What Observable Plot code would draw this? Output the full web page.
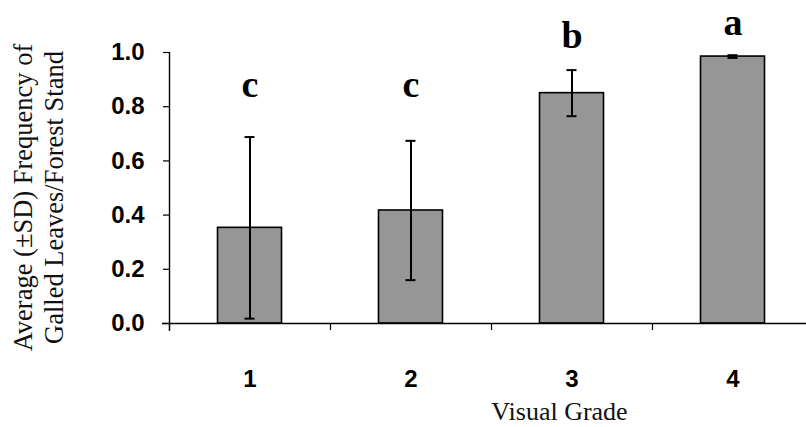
<!DOCTYPE html>
<html>
<head>
<meta charset="utf-8">
<script src="https://cdn.jsdelivr.net/npm/d3@7"></script>
<script src="https://cdn.jsdelivr.net/npm/@observablehq/plot@0.6"></script>
<style>
  html, body { margin: 0; padding: 0; background: #fff; }
</style>
</head>
<body>
<div id="chart"></div>
<script>
const grades = ["1", "2", "3", "4"];
const means = [0.353, 0.417, 0.850, 0.985];
const sds = [0.335, 0.257, 0.085, 0.005];
const letters = ["c", "c", "b", "a"];
const letterY = [0.88, 0.88, 1.062, 1.11];
const yTicks = [0, 0.2, 0.4, 0.6, 0.8, 1.0];
const yTitle = "Average (±SD) Frequency of\nGalled Leaves/Forest Stand";
const xTitle = "Visual Grade";

const data = grades.map((g, i) => ({
  grade: g, mean: means[i], lo: means[i] - sds[i], hi: means[i] + sds[i],
  letter: letters[i], ly: letterY[i]
}));

const sans = "'Liberation Sans', Arial, sans-serif";
const serif = "'Liberation Serif', 'Times New Roman', serif";

const chart = Plot.plot({
  width: 806,
  height: 427,
  marginLeft: 169,
  marginRight: 0,
  marginTop: 52,
  marginBottom: 104,
  style: {background: "#fff", color: "#000"},
  x: {type: "band", domain: grades, range: [169, 813], padding: 0},
  y: {domain: [0, 1]},
  marks: [
    Plot.barY(data, {x: "grade", y: "mean", fill: "#969696", stroke: "#000", strokeWidth: 1.6, insetLeft: 48.5, insetRight: 48.5}),
    Plot.ruleX(data, {x: "grade", y1: "lo", y2: "hi", stroke: "#000", strokeWidth: 2}),
    Plot.tickY(data, {x: "grade", y: "hi", stroke: "#000", strokeWidth: 2, insetLeft: 75.5, insetRight: 75.5}),
    Plot.tickY(data, {x: "grade", y: "lo", stroke: "#000", strokeWidth: 2, insetLeft: 75.5, insetRight: 75.5}),
    Plot.ruleY([0], {stroke: "#000", strokeWidth: 1.4, insetLeft: -7}),
    Plot.ruleX([grades[0]], {x: d => d, dx: -80.5, stroke: "#000", strokeWidth: 1.4, insetBottom: -8}),
    Plot.axisX({tickSize: 7, tickFormat: () => "", dx: -80.5, label: null, stroke: "#000", strokeWidth: 1.2}),
    Plot.axisX({tickSize: 0, tickPadding: 46, fontSize: 24, fontWeight: "bold", fontFamily: sans, label: null, fill: "#000"}),
    Plot.axisY(yTicks, {tickFormat: d3.format(".1f"), tickSize: 6, tickPadding: 19, fontSize: 24, fontWeight: "bold", fontFamily: sans, label: null, stroke: "#000", strokeWidth: 1.2, fill: "#000"}),
    Plot.text(data, {x: "grade", y: "ly", text: "letter", fontSize: 38, fontWeight: "bold", fontFamily: serif, fill: "#000", lineAnchor: "middle"}),
    Plot.text([yTitle], {frameAnchor: "left", dx: -131.5, dy: 9.5, rotate: -90, fontSize: 26.5, fontFamily: serif, lineHeight: 1.17, textAnchor: "middle", lineAnchor: "middle", fill: "#111"}),
    Plot.text([xTitle], {frameAnchor: "bottom", dx: 71.5, dy: 88, fontSize: 26, fontFamily: serif, textAnchor: "middle", lineAnchor: "middle", fill: "#111"})
  ]
});
document.getElementById("chart").appendChild(chart);
</script>
</body>
</html>
